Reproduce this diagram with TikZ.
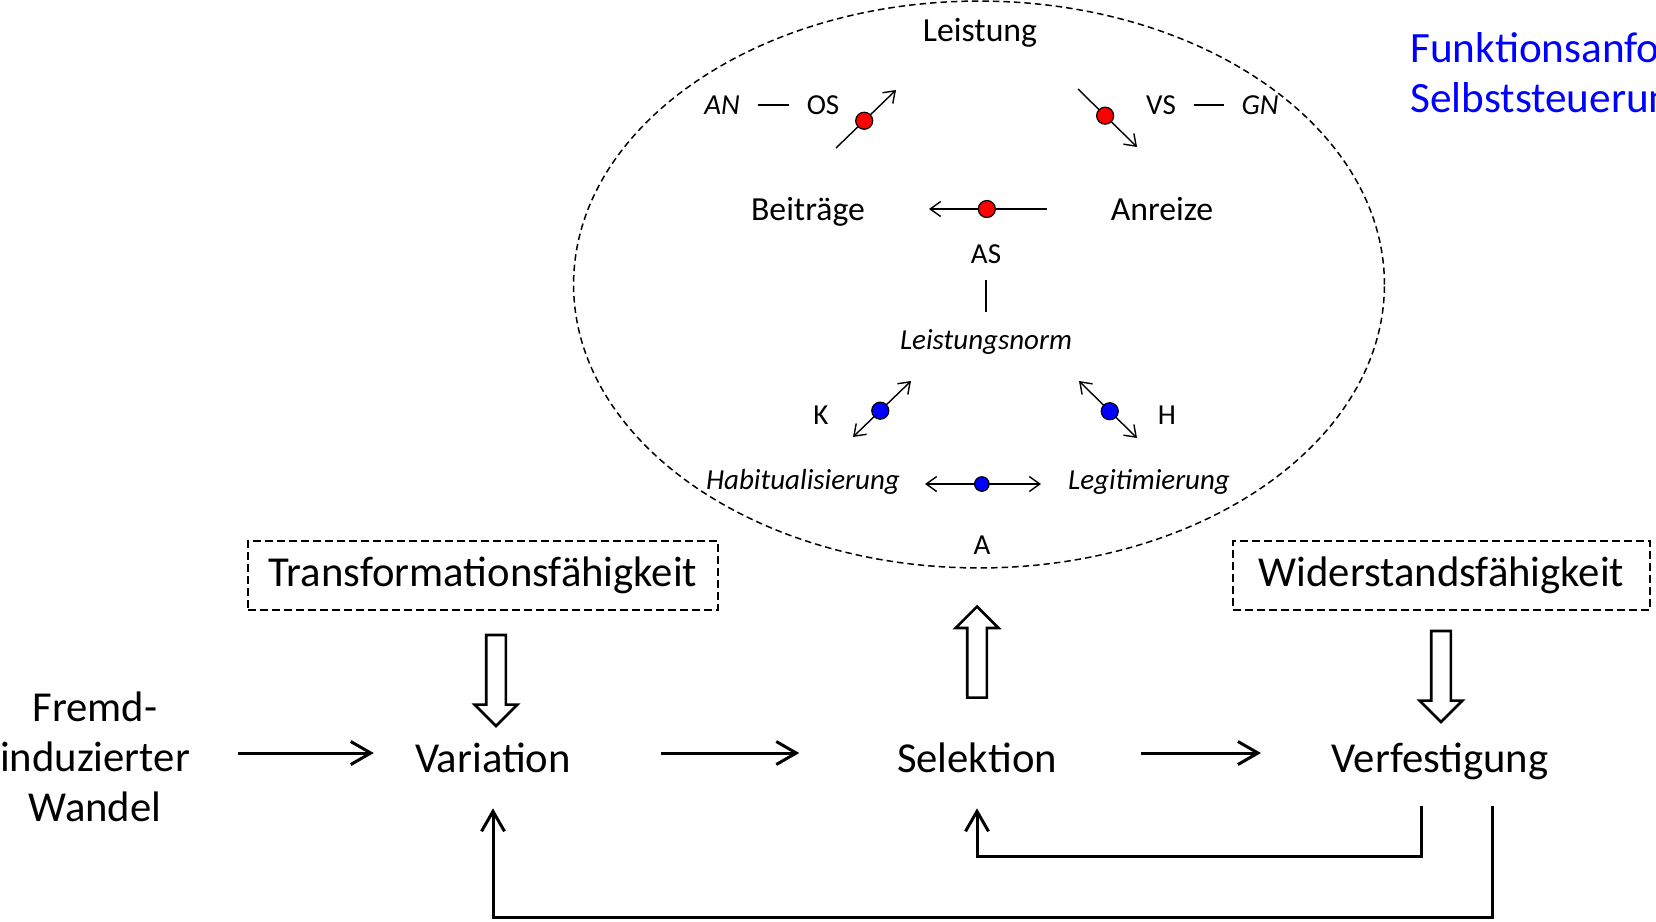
\documentclass[tikz,border=0pt]{standalone}
\usepackage{fontspec}
\setmainfont{Carlito}
\usetikzlibrary{arrows.meta, shapes.arrows}
\definecolor{funcblue}{RGB}{0,0,255}
\definecolor{dotred}{RGB}{255,0,0}
\definecolor{dotblue}{RGB}{0,0,255}

\begin{document}
\begin{tikzpicture}[x=0.02cm, y=-0.02cm,
    stage/.style={inner sep=0, anchor=base, font=\fontsize{24.3}{28.5}\selectfont, text height=0.96cm, text depth=0.2cm},
    capa/.style={draw, dash pattern=on 0.16cm off 0.08cm, line width=1.1pt, minimum height=1.38cm, inner sep=0, font=\fontsize{24.3}{28.5}\selectfont},
    pole/.style={inner sep=0, font=\fontsize{19.2}{23}\selectfont},
    tag/.style={inner sep=0, font=\fontsize{16.5}{20}\selectfont},
    itag/.style={inner sep=0, font=\fontsize{16.5}{20}\selectfont\itshape},
    flow/.style={-{Straight Barb[length=0.4cm, width=0.46cm]}, line width=1.7pt},
    pin/.style={-{Straight Barb[length=0.21cm, width=0.3cm]}, line width=0.8pt},
    twopin/.style={{Straight Barb[length=0.21cm, width=0.3cm]}-{Straight Barb[length=0.21cm, width=0.3cm]}, line width=0.8pt},
    bond/.style={line width=0.8pt},
    rdot/.style={circle, draw, fill=dotred, inner sep=0, minimum size=0.34cm, line width=0.7pt},
    bdot/.style={rdot, fill=dotblue},
    hollow/.style={single arrow, draw, line width=1.5pt, inner sep=0.17cm, minimum height=1.82cm, single arrow head extend=0.23cm}
]
\clip (0,0) rectangle (1656,921);
\draw[line width=0.85pt, dash pattern=on 0.13cm off 0.08cm] (979,284.5) ellipse [x radius=8.11cm, y radius=5.67cm];

\node[pole] (leistung) at (980,33) {Leistung};
\node[itag] (an) at (722,105) {AN};
\node[tag] (os) at (823,105) {OS};
\node[tag] (vs) at (1161,105) {VS};
\node[itag] (gn) at (1260,105) {GN};
\node[pole] (beitraege) at (808,212) {Beiträge};
\node[pole] (anreize) at (1162,209) {Anreize};
\node[tag] (as) at (986,254) {AS};
\node[itag] (norm) at (986,342) {Leistungsnorm};
\node[tag] (k) at (821,415) {K};
\node[tag] (h) at (1167,415) {H};
\node[itag] (habit) at (803,482) {Habitualisierung};
\node[itag] (legit) at (1149,482) {Legitimierung};
\node[tag] (a) at (982,545) {A};

\draw[bond, shorten <=0.35cm, shorten >=0.35cm] (an) -- (os);
\draw[bond, shorten <=0.35cm, shorten >=0.35cm] (vs) -- (gn);
\draw[bond, shorten <=0.33cm, shorten >=0.35cm] (as) -- (norm);

\coordinate (os-tail) at (836,148);
\coordinate (os-head) at (896,90);
\coordinate (vs-tail) at (1078,89);
\coordinate (vs-head) at (1137,147);
\coordinate (as-tail) at (1047,209);
\coordinate (as-head) at (929,209);
\coordinate (k-low) at (853,437);
\coordinate (k-high) at (911,381);
\coordinate (h-high) at (1079,381);
\coordinate (h-low) at (1137,438);
\coordinate (a-left) at (925,484);
\coordinate (a-right) at (1041,484);
\draw[pin] (os-tail) -- (os-head) node[rdot, pos=0.47] (os-dot) {};
\draw[pin] (vs-tail) -- (vs-head) node[rdot, pos=0.46] (vs-dot) {};
\draw[pin] (as-tail) -- (as-head) node[rdot, pos=0.51] (as-dot) {};
\draw[twopin] (k-low) -- (k-high) node[bdot, pos=0.47] (k-dot) {};
\draw[twopin] (h-high) -- (h-low) node[bdot, pos=0.53] (h-dot) {};
\draw[twopin] (a-left) -- (a-right) node[bdot, minimum size=0.29cm, pos=0.49] (a-dot) {};

\node[anchor=west, align=left, inner sep=0, text=funcblue, font=\fontsize{24.6}{28.5}\selectfont] (func) at (1410,73) {Funktionsanfo\\Selbststeuerun};

\node[capa, minimum width=9.4cm] (transf) at (483,575.5) {Transformationsfähigkeit};
\node[capa, minimum width=8.34cm] (wider) at (1441.5,575.5) {Widerstandsfähigkeit};

\node[hollow, rotate=-90] (push-var) at (496,675.5) {};
\node[hollow, rotate=90] (push-sel) at (977,657) {};
\node[hollow, rotate=-90] (push-verf) at (1441,671.5) {};

\node[inner sep=0, align=center, font=\fontsize{24.3}{28.5}\selectfont] (fremd) at (95,757) {Fremd-\\induzierter\\Wandel};
\node[stage] (var) at (493,772) {Variation};
\node[stage] (sel) at (977,772) {Selektion};
\node[stage] (verf) at (1440,772) {Verfestigung};

\draw[flow, shorten <=0.96cm, shorten >=0.82cm] (fremd.east |- var.west) -- (var.west);
\draw[flow, shorten <=1.80cm, shorten >=1.95cm] (var.east) -- (sel.west);
\draw[flow, shorten <=1.67cm, shorten >=1.41cm] (sel.east) -- (verf.west);
\draw[flow, shorten <=0.48cm, shorten >=0.52cm] ([xshift=-0.38cm]verf.south) -- ++(0,74) -| (sel.south);
\draw[flow, shorten <=0.48cm, shorten >=0.52cm] ([xshift=1.04cm]verf.south) -- ++(0,135) -| (var.south);
\end{tikzpicture}
\end{document}
